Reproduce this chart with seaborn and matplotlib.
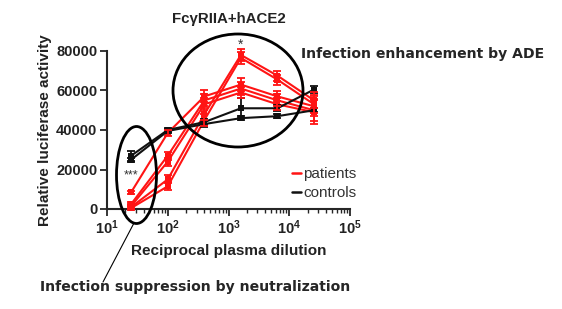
import numpy as np
import pandas as pd
import matplotlib
matplotlib.use("Agg")
import matplotlib.pyplot as plt
import seaborn as sns
from matplotlib.patches import Ellipse
from matplotlib.lines import Line2D

# ---- data ----
dilution = [25, 100, 400, 1600, 6400, 25600]
patient_1 = [8500, 38500, 57000, 63000, 57000, 52000]
patient_2 = [2500, 27000, 55000, 61000, 55000, 50000]
patient_3 = [1500, 24000, 53000, 59000, 53000, 49000]
patient_4 = [1000, 15000, 48000, 78000, 67500, 55000]
patient_5 = [500, 11500, 45000, 76500, 65500, 53000]
patient_err_1 = [800, 1500, 3000, 3500, 2500, 5000]
patient_err_2 = [800, 2000, 3000, 3500, 3000, 5500]
patient_err_3 = [800, 2000, 3000, 3000, 3000, 6000]
patient_err_4 = [800, 2000, 3000, 3000, 2500, 4000]
patient_err_5 = [800, 2000, 3000, 3000, 2500, 4500]
control_1 = [27000, 40000, 44000, 51000, 51000, 60500]
control_2 = [25000, 39500, 43000, 46000, 47000, 50000]
control_err_1 = [2500, 800, 1500, 5000, 1500, 2000]
control_err_2 = [1000, 800, 1500, 1000, 1000, 1000]
yticks = [0, 20000, 40000, 60000, 80000]

series = {
    "p1": (patient_1, patient_err_1, "patients"),
    "p2": (patient_2, patient_err_2, "patients"),
    "p3": (patient_3, patient_err_3, "patients"),
    "p4": (patient_4, patient_err_4, "patients"),
    "p5": (patient_5, patient_err_5, "patients"),
    "c1": (control_1, control_err_1, "controls"),
    "c2": (control_2, control_err_2, "controls"),
}
rows = []
for name, (vals, errs, grp) in series.items():
    for d, v, e in zip(dilution, vals, errs):
        rows.append(dict(series=name, group=grp, dilution=d, value=v, err=e))
df = pd.DataFrame(rows)

sns.set_style("ticks")
plt.rcParams['font.family'] = ['Liberation Sans', 'DejaVu Sans']

W, H = 562, 309
fig = plt.figure(figsize=(W / 100, H / 100), dpi=100)
ax = fig.add_axes([107 / W, 1 - 209 / H, 243 / W, 158 / H])

red = "#ff1414"
palette = {"p1": red, "p2": red, "p3": red, "p4": red, "p5": red,
           "c1": "#111111", "c2": "#111111"}

sns.lineplot(data=df, x="dilution", y="value", hue="series", palette=palette,
             marker="s", markersize=3.8, markeredgewidth=0, linewidth=1.5,
             legend=False, ax=ax, clip_on=False, zorder=3)
for name, sub in df.groupby("series"):
    ax.errorbar(sub["dilution"], sub["value"], yerr=sub["err"], fmt="none",
                ecolor=palette[name], elinewidth=1.3, capsize=2.8, capthick=1.3,
                clip_on=False, zorder=3)

ax.set_xscale("log")
ax.set_xlim(10, 1e5)
ax.set_ylim(0, 80000)
ax.set_yticks(yticks)
ax.set_yticklabels([str(t) for t in yticks])
sns.despine(ax=ax)
for s in ["left", "bottom"]:
    ax.spines[s].set_linewidth(1.5)
ax.tick_params(axis="both", which="major", length=5, width=1.3, labelsize=10.5, pad=2,
               labelcolor="#222222")
ax.tick_params(axis="x", which="minor", length=3, width=1.0)
for lbl in ax.get_xticklabels() + ax.get_yticklabels():
    lbl.set_fontweight("bold")
ax.set_xlabel("Reciprocal plasma dilution", fontsize=11, fontweight="bold", labelpad=5,
              color="#222222")
ax.set_ylabel("Relative luciferase activity", fontsize=11, fontweight="bold", labelpad=3,
              color="#222222")
ax.set_title("FcγRIIA+hACE2", fontsize=10.8, fontweight="bold", pad=20, color="#222222")

ax.text(1600, 79500, "*", ha="center", va="bottom", fontsize=10, color="#333333")
ax.text(25, 17000, "***", ha="center", va="center", fontsize=9, color="#333333")

handles = [Line2D([], [], color=red, lw=1.8), Line2D([], [], color="#111111", lw=1.8)]
leg = ax.legend(handles, ["patients", "controls"], frameon=False, fontsize=11,
                handlelength=0.6, handletextpad=0.15, labelspacing=0.35,
                loc="center left", bbox_to_anchor=(0.705, 0.16))
for t in leg.get_texts():
    t.set_color("#333333")

def fx(x):
    return x / W

def fy(y):
    return 1 - y / H

fig.add_artist(Ellipse((fx(238), fy(90.5)), 130 / W, 113 / H, transform=fig.transFigure,
                       fill=False, lw=2, ec="black"))
fig.add_artist(Ellipse((fx(136.5), fy(175)), 40 / W, 97 / H, transform=fig.transFigure,
                       fill=False, lw=2, ec="black"))
fig.add_artist(Line2D([fx(134), fx(103)], [fy(223), fy(282)], transform=fig.transFigure,
                      lw=0.8, color="black"))

fig.text(fx(301), fy(54), "Infection enhancement by ADE", family="DejaVu Sans",
         fontweight="bold", fontsize=10.1, va="center", ha="left")
fig.text(fx(40), fy(287), "Infection suppression by neutralization", family="DejaVu Sans",
         fontweight="bold", fontsize=10.1, va="center", ha="left")

fig.savefig("out.png", dpi=100)
